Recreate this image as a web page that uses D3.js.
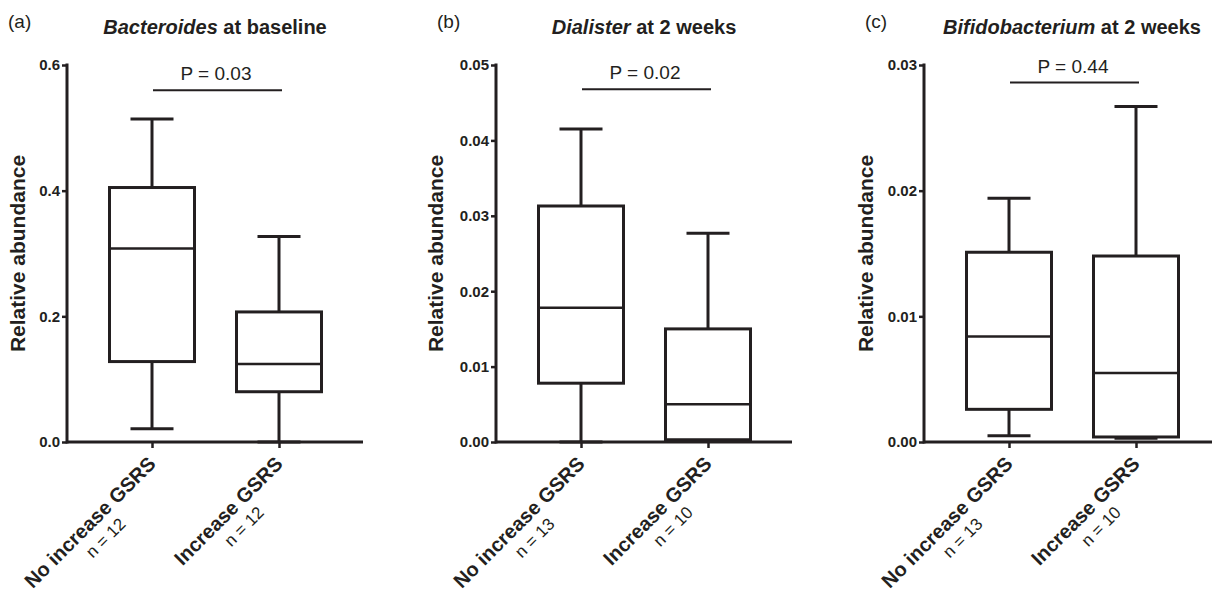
<html lang="en">
  <head>
    <meta charset="utf-8">
    <title>Relative abundance box plots</title>
    <script src="https://d3js.org/d3.v7.min.js"></script>
    <style>
      body { margin: 0; background: #fff; }
      text { font-family: "Liberation Sans", Arial, Helvetica, sans-serif; fill: #231f20; }
      .axis path, .axis line { stroke: #231f20; }
      .axis text { font-size: 15px; font-weight: bold; }
      .title { font-size: 20px; font-weight: bold; }
      .letter { font-size: 19px; }
      .ptext { font-size: 19px; }
      .ylabel { font-size: 21px; font-weight: bold; }
      .xlab1 { font-size: 20px; font-weight: bold; }
      .xlab2 { font-size: 17px; }
    </style>
  </head>
  <body>
    <script>
    // data
    var groups = ["No increase GSRS", "Increase GSRS"];
    var panelLetters = ["(a)", "(b)", "(c)"];
    var genus = ["Bacteroides", "Dialister", "Bifidobacterium"];
    var timepoint = [" at baseline", " at 2 weeks", " at 2 weeks"];
    var nCounts = [[12, 12], [13, 10], [13, 10]];
    var pLabels = ["P = 0.03", "P = 0.02", "P = 0.44"];
    var pBarValue = [0.56, 0.0468, 0.0286];
    var yMax = [0.6, 0.05, 0.03];
    var yTicks = [[0, 0.2, 0.4, 0.6], [0, 0.01, 0.02, 0.03, 0.04, 0.05], [0, 0.01, 0.02, 0.03]];
    var yFormats = [".1f", ".2f", ".2f"];

    // min, q1, median, q3, max per group
    var statsA = [[0.021, 0.128, 0.308, 0.405, 0.514], [0.0, 0.080, 0.124, 0.207, 0.327]];
    var statsB = [[0.0, 0.0078, 0.0178, 0.0313, 0.0415], [0.0001, 0.0003, 0.0050, 0.0150, 0.0277]];
    var statsC = [[0.0005, 0.0026, 0.0084, 0.0151, 0.0194], [0.0003, 0.0004, 0.0055, 0.0148, 0.0267]];
    var allStats = [statsA, statsB, statsC];

    var W = 1212, H = 592;
    var axisX = [67, 496, 924];      // y axis position of each panel
    var yLabelOff = [-42, -53, -51];
    var yTop = 65, yBottom = 442, axisLen = 296;
    var boxW = 85, capW = 43;
    var ink = "#231f20";

    var svg = d3.select("body").append("svg")
      .attr("width", W)
      .attr("height", H);

    allStats.forEach(function(stats, i) {
      var g = svg.append("g").attr("transform", "translate(" + axisX[i] + ",0)");

      var y = d3.scaleLinear().domain([0, yMax[i]]).range([yBottom, yTop]);
      var x = d3.scalePoint().domain(groups).range([85, 212]);

      // boxes
      stats.forEach(function(s, j) {
        var cx = x(groups[j]);
        var b = g.append("g")
          .attr("fill", "none")
          .attr("stroke", ink)
          .attr("stroke-width", 3);
        b.append("line").attr("x1", cx).attr("x2", cx).attr("y1", y(s[4])).attr("y2", y(s[3]));
        b.append("line").attr("x1", cx).attr("x2", cx).attr("y1", y(s[1])).attr("y2", y(s[0]));
        b.append("line").attr("x1", cx - capW / 2).attr("x2", cx + capW / 2).attr("y1", y(s[4])).attr("y2", y(s[4]));
        b.append("line").attr("x1", cx - capW / 2).attr("x2", cx + capW / 2).attr("y1", y(s[0])).attr("y2", y(s[0]));
        b.append("rect")
          .attr("x", cx - boxW / 2)
          .attr("width", boxW)
          .attr("y", y(s[3]))
          .attr("height", y(s[1]) - y(s[3]));
        b.append("line")
          .attr("x1", cx - boxW / 2).attr("x2", cx + boxW / 2)
          .attr("y1", y(s[2])).attr("y2", y(s[2]))
          .attr("stroke-width", 2.5);
      });

      // y axis
      var yAxis = d3.axisLeft(y).tickValues(yTicks[i]).tickSize(5).tickPadding(2)
        .tickFormat(d3.format(yFormats[i]));
      var ya = g.append("g").attr("class", "axis").call(yAxis);
      ya.select(".domain").remove();
      ya.selectAll("line").attr("stroke-width", 2.5);
      g.append("line")
        .attr("x1", 0).attr("x2", 0).attr("y1", yTop - 1.5).attr("y2", yBottom + 1.5)
        .attr("stroke", ink).attr("stroke-width", 3);

      // x axis
      var xAxis = d3.axisBottom(x).tickSize(6).tickFormat("");
      var xa = g.append("g").attr("class", "axis")
        .attr("transform", "translate(0," + yBottom + ")")
        .call(xAxis);
      xa.select(".domain").remove();
      xa.selectAll("line").attr("stroke-width", 2.5);
      g.append("line")
        .attr("x1", 0).attr("x2", axisLen).attr("y1", yBottom).attr("y2", yBottom)
        .attr("stroke", ink).attr("stroke-width", 3);

      // x labels
      groups.forEach(function(name, j) {
        var lg = g.append("g")
          .attr("transform", "translate(" + (x(name) + 5) + "," + (yBottom + 23) + ") rotate(-45)");
        var t1 = lg.append("text").attr("class", "xlab1").attr("text-anchor", "end").text(name);
        var w1 = t1.node().getComputedTextLength();
        lg.append("text").attr("class", "xlab2").attr("text-anchor", "middle")
          .attr("x", -w1 / 2).attr("y", 21)
          .text("n = " + nCounts[i][j]);
      });

      // y label
      g.append("text")
        .attr("class", "ylabel")
        .attr("transform", "translate(" + yLabelOff[i] + "," + ((yTop + yBottom) / 2) + ") rotate(-90)")
        .attr("text-anchor", "middle")
        .text("Relative abundance");

      // title and letter
      var title = g.append("text")
        .attr("class", "title")
        .attr("x", axisLen / 2).attr("y", 34)
        .attr("text-anchor", "middle");
      title.append("tspan").style("font-style", "italic").text(genus[i]);
      title.append("tspan").text(timepoint[i]);

      g.append("text")
        .attr("class", "letter")
        .attr("x", -59).attr("y", 28)
        .text(panelLetters[i]);

      // significance bar
      var py = y(pBarValue[i]);
      g.append("line")
        .attr("x1", x(groups[0]) + 1).attr("x2", x(groups[1]) + 3)
        .attr("y1", py).attr("y2", py)
        .attr("stroke", ink).attr("stroke-width", 2);
      g.append("text")
        .attr("class", "ptext")
        .attr("x", axisLen / 2 + 1).attr("y", py - 10)
        .attr("text-anchor", "middle")
        .text(pLabels[i]);
    });
    </script>
  </body>
</html>
